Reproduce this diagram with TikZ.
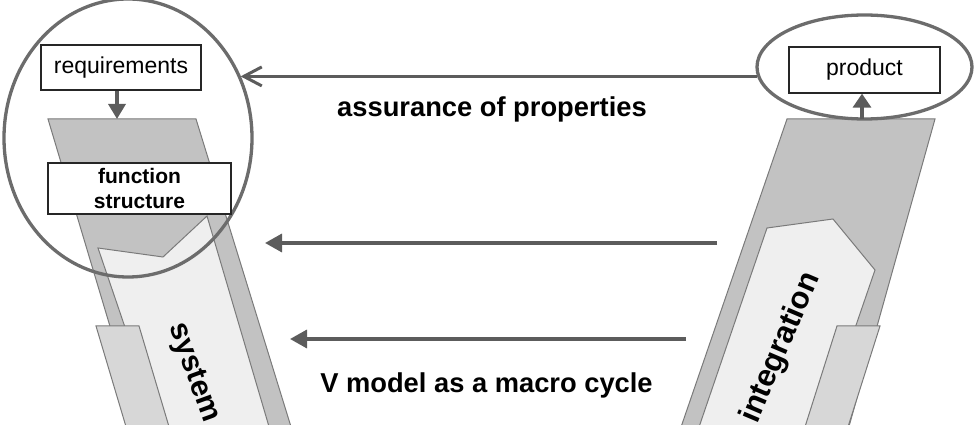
\documentclass[tikz,border=0pt]{standalone}
\usepackage{fontspec}
\setmainfont{Liberation Sans}
\usetikzlibrary{shapes.geometric,arrows.meta,positioning,calc}
\definecolor{rimgrey}{HTML}{6C6C6C}
\definecolor{edgegrey}{HTML}{7A7A7A}
\definecolor{bandgrey}{HTML}{C2C2C2}
\definecolor{tabgrey}{HTML}{D7D7D7}
\definecolor{coregrey}{HTML}{EFEFEF}
\definecolor{inkgrey}{HTML}{5C5C5C}

\begin{document}
\begin{tikzpicture}[x=1pt,y=-1pt,
  band/.style={draw=edgegrey,line width=1pt,fill=bandgrey},
  core/.style={draw=edgegrey,line width=1pt,fill=coregrey},
  tab/.style={draw=edgegrey,line width=1pt,fill=tabgrey},
  ring/.style={ellipse,draw=rimgrey,line width=3.3pt,inner sep=0pt},
  plainbox/.style={rectangle,draw=black!85,line width=1.3pt,fill=white,inner sep=0pt},
  flow/.style={draw=inkgrey,line width=3.4pt},
  caption/.style={font=\bfseries\fontsize{27.3}{30}\selectfont}]
\useasboundingbox (0,0) rectangle (975,438);

% the two legs of the V, cut off at the bottom
\begin{scope}
\clip (0,0) rectangle (975,424);
\path[band] (48,119) -- (196,119) -- (292,430) -- (141,430) -- cycle;
\path[core] (98,248) -- (163,257) -- (207,216) -- (270,430) -- (160,430) -- cycle;
\path[tab] (96,326) -- (139,326) -- (170,430) -- (127,430) -- cycle;
\node[rotate=-70,font=\bfseries\fontsize{30}{30}\selectfont] (sys) at (193,373) {system};

\path[band] (787,119) -- (935,119) -- (848,430) -- (680,430) -- cycle;
\path[core] (767,228) -- (833,219) -- (875,270) -- (820,430) -- (698,430) -- cycle;
\path[tab] (837,326) -- (880,326) -- (847,430) -- (804,430) -- cycle;
\node[rotate=67,font=\bfseries\fontsize{31}{31}\selectfont] (integ) at (781,348) {integration};
\end{scope}

% circled ends
\node[ring,minimum width=248pt,minimum height=278pt] (lring) at (128,138) {};
\node[ring,minimum width=215pt,minimum height=104pt] (pring) at (864.5,67) {};

\node[plainbox,minimum width=160pt,minimum height=45pt,font=\fontsize{23}{23}\selectfont] (req) at (121,67.5) {requirements};
\node[plainbox,minimum width=151pt,minimum height=46pt,font=\fontsize{23}{23}\selectfont] (prod) at (864.5,70) {product};
\node[plainbox,minimum width=183pt,minimum height=51pt,align=center,
  font=\bfseries\fontsize{21}{25}\selectfont] (fstruct) at (139.5,188.5) {function\\structure};

\coordinate (ltop) at (117,119);
\coordinate (rtop) at (862,119);
\coordinate (midR) at (717,243);
\coordinate (midL) at (265,243);
\coordinate (lowR) at (686,339);
\coordinate (lowL) at (290,339);

% connectors
\draw[flow,-{Triangle[length=15pt,width=17pt]}] ([xshift=-4pt]req.south) -- (ltop);
\draw[flow,-{Triangle[length=14pt,width=18pt]}] (rtop) -- (rtop |- prod.south);
\draw[flow,-{Straight Barb[length=18pt,width=19pt,line width=3pt]}] (pring.185) -- (lring.29 |- pring.185);
\draw[flow,-{Triangle[length=17pt,width=18pt]}] (midR) -- (midL);
\draw[flow,-{Triangle[length=17pt,width=18pt]}] (lowR) -- (lowL);

\node[caption,anchor=base] (assure) at (492,117) {assurance of properties};
\node[caption,anchor=base] (vmodel) at (486.5,392) {V model as a macro cycle};
\end{tikzpicture}
\end{document}
